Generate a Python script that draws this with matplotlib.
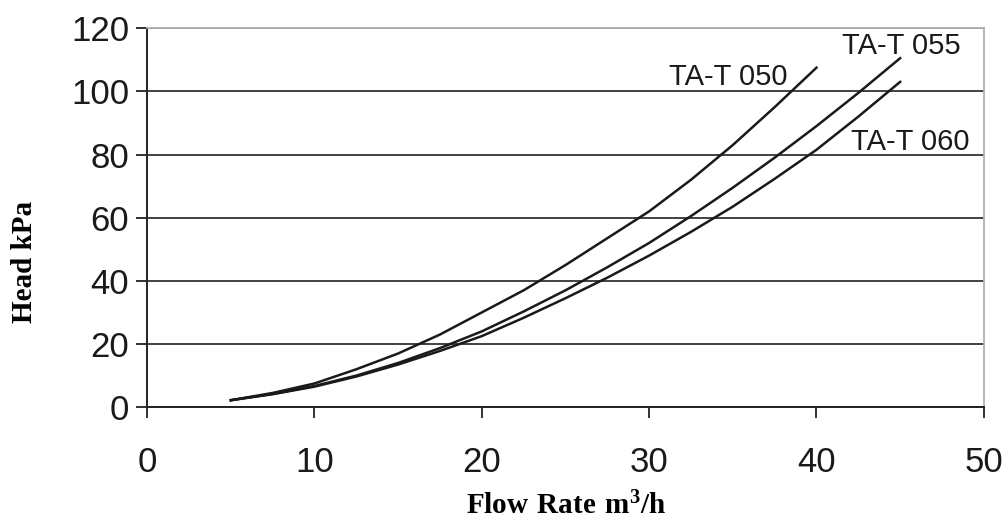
import matplotlib.pyplot as plt

plt.rcParams['mathtext.fontset'] = 'custom'
plt.rcParams['mathtext.bf'] = 'Liberation Serif:bold'
plt.rcParams['mathtext.rm'] = 'Liberation Serif:bold'

flow = [5, 7.5, 10, 12.5, 15, 17.5, 20, 22.5, 25, 27.5, 30, 32.5, 35, 37.5,
        40, 42.5, 45]
head_050 = [2.2, 4.5, 7.5, 12.0, 17.0, 23.0, 30.0, 37.0, 45.0, 53.5, 62.0,
            72.0, 83.0, 95.0, 107.5]
head_055 = [2.2, 4.2, 6.7, 10.0, 14.0, 18.7, 24.0, 30.3, 37.0, 44.3, 52.0,
            60.5, 69.5, 79.0, 89.0, 99.5, 110.5]
head_060 = [2.2, 4.1, 6.5, 9.7, 13.5, 17.8, 22.5, 28.3, 34.5, 41.0, 48.0,
            55.5, 63.5, 72.3, 81.5, 92.0, 103.0]

fig = plt.figure(figsize=(10.08, 5.22), dpi=100)
ax = fig.add_axes([0.146, 0.220, 0.830, 0.726])

ax.plot(flow[:len(head_050)], head_050, color='#1a1a1a', lw=1.8)
ax.plot(flow, head_055, color='#1a1a1a', lw=1.8)
ax.plot(flow, head_060, color='#1a1a1a', lw=1.8)

ax.set_xlim(0, 50)
ax.set_ylim(0, 120)
ax.set_xticks(range(0, 51, 10))
ax.set_yticks(range(0, 121, 20))

ax.yaxis.grid(True, color='#333333', lw=1.3)
ax.set_axisbelow(True)
for s in ['top', 'right']:
    ax.spines[s].set_color('#b0b0b0')
    ax.spines[s].set_linewidth(1.3)
for s in ['left', 'bottom']:
    ax.spines[s].set_color('#222222')
    ax.spines[s].set_linewidth(1.4)

ax.tick_params(direction='out', length=8, width=1.3, color='#222222',
               labelsize=25)
ax.tick_params(axis='y', pad=5)
ax.tick_params(axis='x', pad=20)
for lab in ax.get_xticklabels() + ax.get_yticklabels():
    lab.set_family('Liberation Sans')
    lab.set_color('#1a1a1a')

ax.set_xlabel(r'$\mathbf{Flow\ Rate\ m^3/h}$', fontsize=21, labelpad=9)
ax.set_ylabel('Head kPa', family='Liberation Serif', weight='bold',
              fontsize=21)
ax.yaxis.set_label_coords(-0.131, 0.383)

lab_kw = dict(family='Liberation Sans', fontsize=21, color='#1a1a1a',
              ha='left', va='center')
ax.text(31.2, 104.5, 'TA-T 050', **lab_kw)
ax.text(41.5, 114.3, 'TA-T 055', **lab_kw)
ax.text(42.05, 83.9, 'TA-T 060', **lab_kw)

fig.savefig('out.png', dpi=100)
